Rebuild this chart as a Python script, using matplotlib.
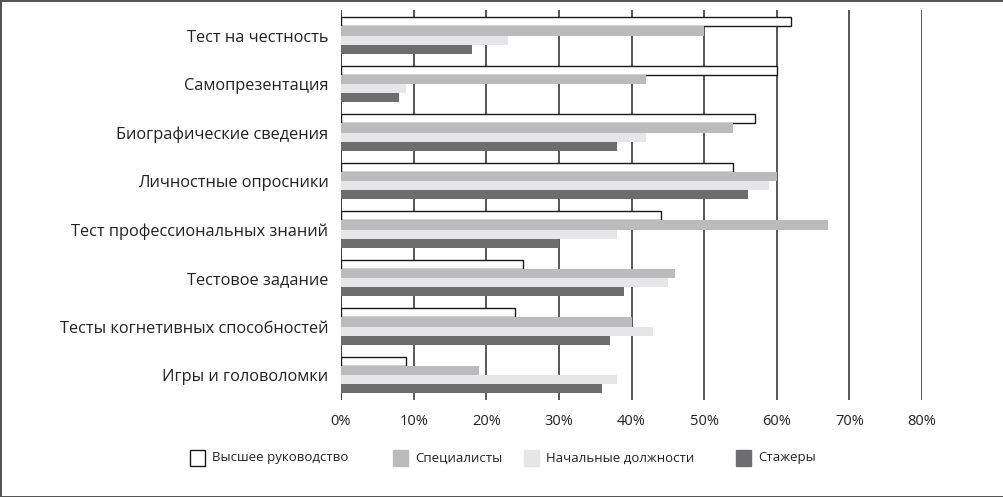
import matplotlib
matplotlib.use("Agg")
import matplotlib.pyplot as plt
from matplotlib.patches import Rectangle
import numpy as np

plt.rcParams['font.family'] = ['Open Sans', 'DejaVu Sans']

# data (percent)
categories = ["Тест на честность", "Самопрезентация", "Биографические сведения",
              "Личностные опросники", "Тест профессиональных знаний", "Тестовое задание",
              "Тесты когнетивных способностей", "Игры и головоломки"]
series_names = ["Высшее руководство", "Специалисты", "Начальные должности", "Стажеры"]
top_mgmt = [62, 60, 57, 54, 44, 25, 24, 9]
specialists = [50, 42, 54, 60, 67, 46, 40, 19]
entry_level = [23, 9, 42, 59, 38, 45, 43, 38]
interns = [18, 8, 38, 56, 30, 39, 37, 36]
xticks = [0, 10, 20, 30, 40, 50, 60, 70, 80]

series = [top_mgmt, specialists, entry_level, interns]
colors = ["white", "#bbbbbd", "#e6e6e8", "#6d6d6f"]
edges = ["#1a1a1a", "none", "none", "none"]

fig = plt.figure(figsize=(10.04, 4.97), dpi=100)
fig.patch.set_edgecolor("#555555")
fig.patch.set_linewidth(2)
ax = fig.add_axes([341/1004, 1-400/497, (922-341)/1004, 390/497])

y = np.arange(len(categories))
h = 0.19
for i in range(4):
  ax.barh(y + (i - 1.5)*h, series[i], height=h, color=colors[i],
          edgecolor=edges[i], linewidth=1.0, zorder=3)

#gridlines
for t in xticks:
  ax.axvline(t, color="#1a1a1a" if t == 0 else "#3a3a3a", lw=1.2, zorder=1)

ax.set_xlim(0, 80)
ax.set_ylim(7.515, -0.526)
ax.set_xticks(xticks)
ax.set_xticklabels([f"{t}%" for t in xticks])
ax.set_yticks(y)
ax.set_yticklabels(categories)
ax.tick_params(axis='x', length=0, pad=10, labelsize=10.5, colors="#222222")
ax.tick_params(axis='y', length=0, pad=9, labelsize=11.8, colors="#222222")
for lbl in ax.get_yticklabels():
  lbl.set_y(lbl.get_position()[1])
for s in ax.spines.values():
  s.set_visible(False)

# legend, placed by hand
box_x = [190, 393, 524, 736]
for i in range(4):
  x0 = box_x[i]/1004
  fig.patches.append(Rectangle((x0, 1-466/497), 15/1004, 16/497, transform=fig.transFigure,
                               facecolor=colors[i], edgecolor=edges[i] if i == 0 else colors[i], lw=1))
  fig.text(x0 + 22/1004, 1-458/497, series_names[i], fontsize=9.5, va="center", color="#222222")

fig.savefig("out.png", dpi=100)
